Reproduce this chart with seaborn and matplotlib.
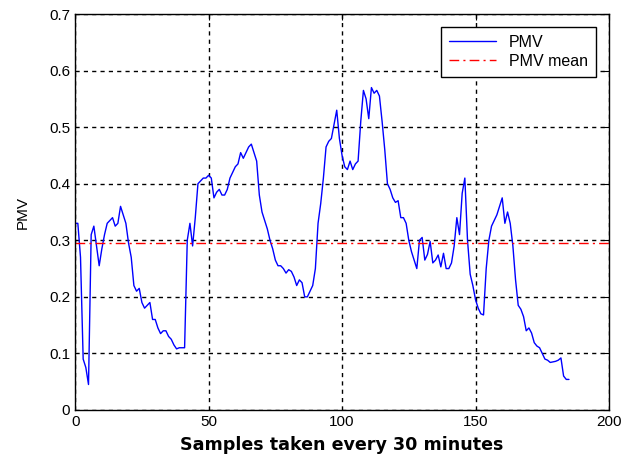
import numpy as np
import pandas as pd
import matplotlib
matplotlib.use("Agg")
import matplotlib.pyplot as plt
import seaborn as sns

# Data
pmv = [0.33, 0.33, 0.27, 0.09, 0.075, 0.045, 0.31, 0.325, 0.29, 0.255,
       0.285, 0.31, 0.33, 0.335, 0.34, 0.325, 0.33, 0.36, 0.345, 0.33,
       0.295, 0.27, 0.22, 0.21, 0.215, 0.19, 0.18, 0.185, 0.19, 0.16,
       0.16, 0.145, 0.135, 0.14, 0.14, 0.13, 0.125, 0.115, 0.108, 0.11,
       0.11, 0.11, 0.30, 0.33, 0.29, 0.34, 0.40, 0.405, 0.41, 0.41,
       0.415, 0.41, 0.375, 0.385, 0.39, 0.38, 0.38, 0.39, 0.41, 0.42,
       0.43, 0.435, 0.455, 0.445, 0.455, 0.465, 0.47, 0.455, 0.44, 0.38,
       0.35, 0.335, 0.32, 0.30, 0.285, 0.265, 0.255, 0.255, 0.25, 0.242,
       0.248, 0.245, 0.235, 0.22, 0.23, 0.225, 0.20, 0.20, 0.21, 0.22,
       0.25, 0.33, 0.365, 0.41, 0.465, 0.475, 0.48, 0.505, 0.53, 0.48,
       0.45, 0.43, 0.425, 0.44, 0.425, 0.435, 0.44, 0.51, 0.565, 0.55,
       0.515, 0.57, 0.56, 0.565, 0.555, 0.51, 0.46, 0.40, 0.39, 0.375,
       0.367, 0.37, 0.34, 0.34, 0.33, 0.30, 0.28, 0.265, 0.25, 0.30,
       0.305, 0.265, 0.275, 0.298, 0.26, 0.265, 0.274, 0.253, 0.277, 0.25,
       0.25, 0.26, 0.29, 0.34, 0.31, 0.383, 0.41, 0.30, 0.24, 0.22,
       0.195, 0.18, 0.17, 0.168, 0.25, 0.30, 0.325, 0.335, 0.345, 0.36,
       0.375, 0.33, 0.35, 0.33, 0.29, 0.23, 0.185, 0.178, 0.165, 0.14,
       0.145, 0.136, 0.119, 0.113, 0.11, 0.10, 0.09, 0.088, 0.084, 0.085,
       0.086, 0.088, 0.092, 0.06, 0.054, 0.054]
samples = list(range(len(pmv)))
pmv_mean = 0.295
mean_x = [0, 200]

x_ticks = [0, 50, 100, 150, 200]
y_ticks = [0, 0.1, 0.2, 0.3, 0.4, 0.5, 0.6, 0.7]
y_ticklabels = ["0", "0.1", "0.2", "0.3", "0.4", "0.5", "0.6", "0.7"]

sns.set_style("white")
plt.rcParams['font.family'] = ['Liberation Sans', 'DejaVu Sans']
plt.rcParams['text.color'] = 'black'
plt.rcParams['axes.labelcolor'] = 'black'
plt.rcParams['xtick.color'] = 'black'
plt.rcParams['ytick.color'] = 'black'

fig = plt.figure(figsize=(6.37, 4.68), dpi=100)
ax = fig.add_axes([0.118, 0.124, 0.838, 0.846])

df = pd.DataFrame({"Samples": samples, "PMV": pmv})
sns.lineplot(data=df, x="Samples", y="PMV", ax=ax, color="#0000FF",
             linewidth=1.0, label="PMV")
dm = pd.DataFrame({"x": mean_x, "y": [pmv_mean] * len(mean_x)})
sns.lineplot(data=dm, x="x", y="y", ax=ax, color="#FF0000",
             linewidth=1.0, linestyle=(0, (7, 3, 1.5, 3)), label="PMV mean")

ax.set_xlim(0, 200)
ax.set_ylim(0, 0.7)
ax.set_xticks(x_ticks)
ax.set_yticks(y_ticks)
ax.set_yticklabels(y_ticklabels)
ax.grid(True, color="black", linestyle=(0, (3, 3)), linewidth=1.0)
ax.set_axisbelow(True)
for s in ax.spines.values():
    s.set_visible(True)
    s.set_color("black")
    s.set_linewidth(1.0)
ax.tick_params(direction="in", top=True, right=True, length=4,
               labelsize=11, colors="black")

ax.set_xlabel("Samples taken every 30 minutes", fontsize=12.6,
              fontweight="bold", family=["DejaVu Sans"], labelpad=5,
              color="black")
ax.set_ylabel("PMV", fontsize=11, labelpad=14, color="black")

leg = ax.legend(loc="upper right", fontsize=11.5, frameon=True, fancybox=False,
                edgecolor="black", framealpha=1, borderaxespad=0.8,
                handlelength=3.0, labelspacing=0.25, borderpad=0.5)
leg.get_frame().set_linewidth(1.0)
for t in leg.get_texts():
    t.set_color("black")

fig.savefig("out.png", dpi=100, facecolor="white")
